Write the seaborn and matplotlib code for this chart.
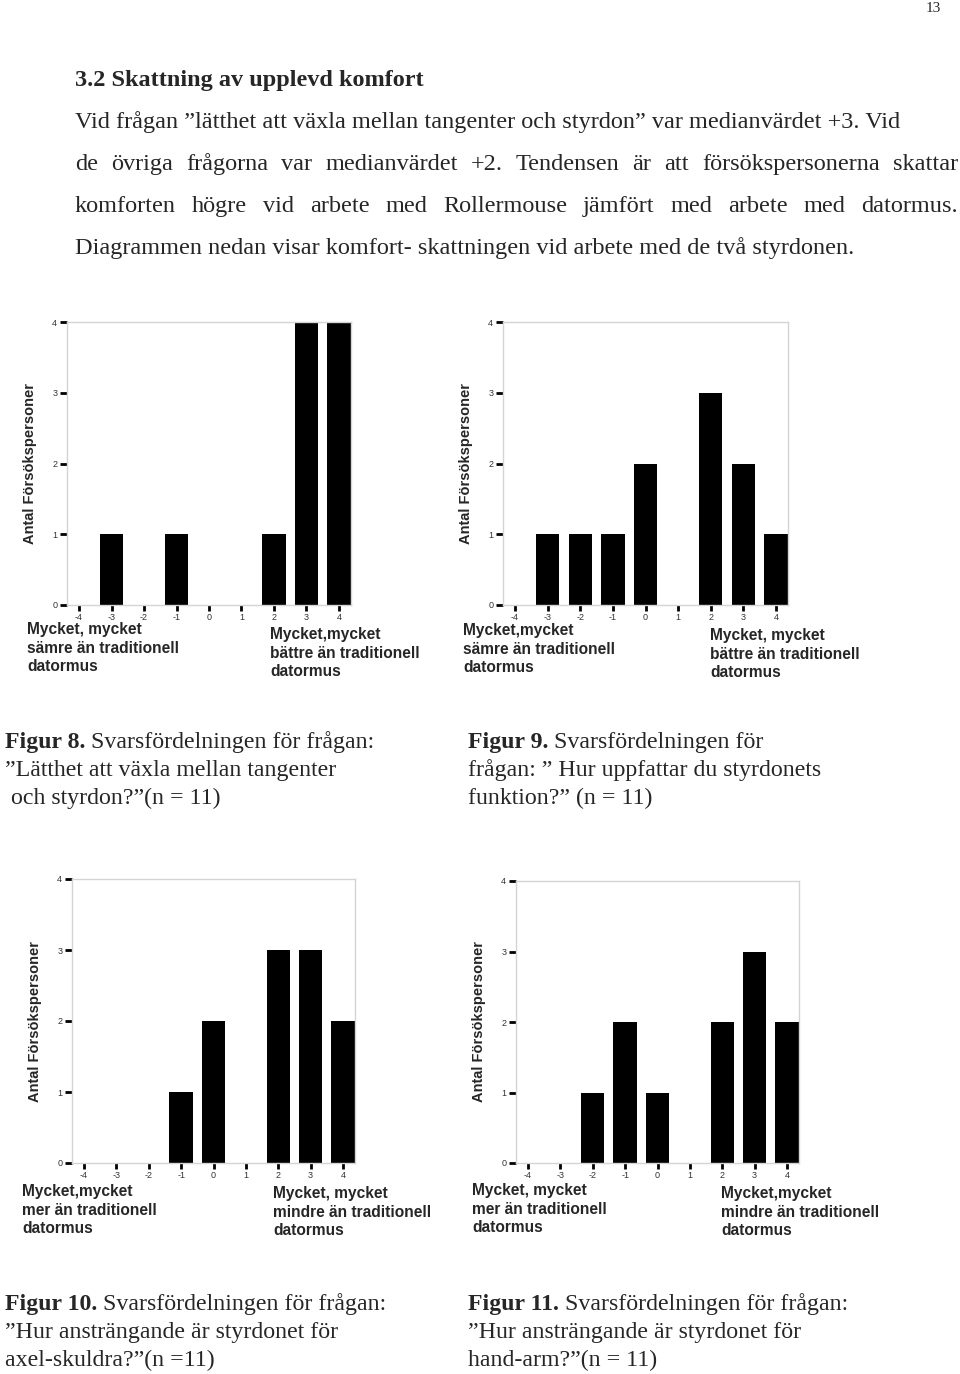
import matplotlib
matplotlib.use('Agg')
import pandas as pd
import matplotlib.pyplot as plt
import seaborn as sns

# Page size in pixels (dpi 100)
W, H = 960, 1374

# Answer scale and the number of test persons per answer
scores = [-4, -3, -2, -1, 0, 1, 2, 3, 4]
counts_fig8 = [0, 1, 0, 1, 0, 0, 1, 4, 4]
counts_fig9 = [0, 1, 1, 1, 2, 0, 3, 2, 1]
counts_fig10 = [0, 0, 0, 1, 2, 0, 3, 3, 2]
counts_fig11 = [0, 0, 1, 2, 1, 0, 2, 3, 2]
y_ticks = [0, 1, 2, 3, 4]
y_label = 'Antal Försökspersoner'

# End-point labels below each chart
low_fig8 = 'Mycket, mycket\nsämre än traditionell\ndatormus'
high_fig8 = 'Mycket,mycket\nbättre än traditionell\ndatormus'
low_fig9 = 'Mycket,mycket\nsämre än traditionell\ndatormus'
high_fig9 = 'Mycket, mycket\nbättre än traditionell\ndatormus'
low_fig10 = 'Mycket,mycket\nmer än traditionell\ndatormus'
high_fig10 = 'Mycket, mycket\nmindre än traditionell\ndatormus'
low_fig11 = 'Mycket, mycket\nmer än traditionell\ndatormus'
high_fig11 = 'Mycket,mycket\nmindre än traditionell\ndatormus'

# Captions: bold part, rest of first line, following lines
cap_fig8 = ['Figur 8.', ' Svarsfördelningen för frågan:',
            '\u201dLätthet att växla mellan tangenter', ' och styrdon?\u201d(n = 11)']
cap_fig9 = ['Figur 9.', ' Svarsfördelningen för',
            'frågan: \u201d Hur uppfattar du styrdonets', 'funktion?\u201d (n = 11)']
cap_fig10 = ['Figur 10.', ' Svarsfördelningen för frågan:',
             '\u201dHur ansträngande är styrdonet för', 'axel-skuldra?\u201d(n =11)']
cap_fig11 = ['Figur 11.', ' Svarsfördelningen för frågan:',
             '\u201dHur ansträngande är styrdonet för', 'hand-arm?\u201d(n = 11)']

heading = '3.2 Skattning av upplevd komfort'
para_lines = [
    'Vid frågan \u201dlätthet att växla mellan tangenter och styrdon\u201d var medianvärdet +3. Vid',
    'de övriga frågorna var medianvärdet +2. Tendensen är att försökspersonerna skattar',
    'komforten högre vid arbete med Rollermouse jämfört med arbete med datormus.',
    'Diagrammen nedan visar komfort- skattningen vid arbete med de två styrdonen.',
]
para_justified = [False, True, True, False]

sns.set_style('white')
plt.rcParams['font.family'] = ['Liberation Sans', 'DejaVu Sans']

SERIF = 'Liberation Serif'
SANS = 'Liberation Sans'
BODY = 17.5
CAP = 17.2

fig = plt.figure(figsize=(W / 100, H / 100), dpi=100)
fig.patch.set_facecolor('white')


def fx(x):
    return x / W


def fy(y):
    return 1 - y / H


def make_chart(box, counts, low, high, low_xy, high_xy):
    left, top, right, bottom = box
    ax = fig.add_axes([fx(left), fy(bottom), (right - left) / W, (bottom - top) / H])
    df = pd.DataFrame({'score': scores, 'count': counts})
    sns.barplot(data=df, x='score', y='count', order=scores, color='black',
                width=0.72, saturation=1, linewidth=0, ax=ax)
    ax.set_xlim(-0.37, len(scores) - 1 + 0.37)
    ax.set_ylim(0, 4)
    ax.set_yticks(y_ticks)
    ax.set_yticklabels([str(t) for t in y_ticks])
    ax.set_xticks(range(len(scores)))
    ax.set_xticklabels([str(s) for s in scores])
    for sp in ax.spines.values():
        sp.set_visible(True)
        sp.set_color('#d4d4d4')
        sp.set_linewidth(1.0)
    ax.tick_params(axis='both', bottom=True, left=True, direction='out', length=5,
                   width=2, color='black', labelsize=6.5, labelcolor='#333333', pad=2)
    ax.tick_params(axis='x', length=4.5, pad=1)
    ax.set_xlabel('')
    ax.set_ylabel(y_label, fontsize=10.5, fontweight='bold', fontfamily=SANS)
    ax.yaxis.set_label_coords(-30 / (right - left), 0.5)
    ax.grid(False)
    for txt, (x, y) in ((low, low_xy), (high, high_xy)):
        fig.text(fx(x), fy(y), txt, ha='left', va='top', fontsize=11.2,
                 fontweight='bold', fontfamily=SANS, linespacing=1.3)
    return ax


make_chart((67, 322, 351, 605), counts_fig8, low_fig8, high_fig8, (27, 622), (270, 627))
make_chart((503, 322, 788, 605), counts_fig9, low_fig9, high_fig9, (463, 623), (710, 628))
make_chart((72, 879, 355, 1163), counts_fig10, low_fig10, high_fig10, (22, 1184), (273, 1186))
make_chart((516, 881, 799, 1163), counts_fig11, low_fig11, high_fig11, (472, 1183), (721, 1186))

renderer = fig.canvas.get_renderer()

# Page number and heading
fig.text(fx(926), fy(8), '13', ha='left', va='center', fontsize=11, fontfamily=SERIF)
fig.text(fx(75), fy(86), heading, ha='left', va='baseline', fontsize=BODY,
         fontweight='bold', fontfamily=SERIF)

# Body paragraph, with justified lines spread across the text width
para_y = [128, 170, 212, 254]
for line, just, y in zip(para_lines, para_justified, para_y):
    if not just:
        fig.text(fx(75), fy(y), line, ha='left', va='baseline', fontsize=BODY,
                 fontfamily=SERIF)
        continue
    words = line.split(' ')
    objs = [fig.text(0, fy(y), w, ha='left', va='baseline', fontsize=BODY, fontfamily=SERIF)
            for w in words]
    widths = [o.get_window_extent(renderer).width for o in objs]
    gap = (958 - 75 - sum(widths)) / (len(words) - 1)
    x = 75
    for o, w in zip(objs, widths):
        o.set_x(fx(x))
        x += w + gap


def caption(parts, x0, y0):
    b = fig.text(fx(x0), fy(y0), parts[0], ha='left', va='baseline', fontsize=CAP,
                 fontweight='bold', fontfamily=SERIF)
    ext = b.get_window_extent(renderer)
    fig.text(ext.x1 / W, fy(y0), parts[1], ha='left', va='baseline', fontsize=CAP,
             fontfamily=SERIF)
    for i, line in enumerate(parts[2:]):
        fig.text(fx(x0), fy(y0 + 28 * (i + 1)), line, ha='left', va='baseline',
                 fontsize=CAP, fontfamily=SERIF)


caption(cap_fig8, 5, 748)
caption(cap_fig9, 468, 748)
caption(cap_fig10, 5, 1310)
caption(cap_fig11, 468, 1310)

fig.savefig('out.png', dpi=100, facecolor='white')
